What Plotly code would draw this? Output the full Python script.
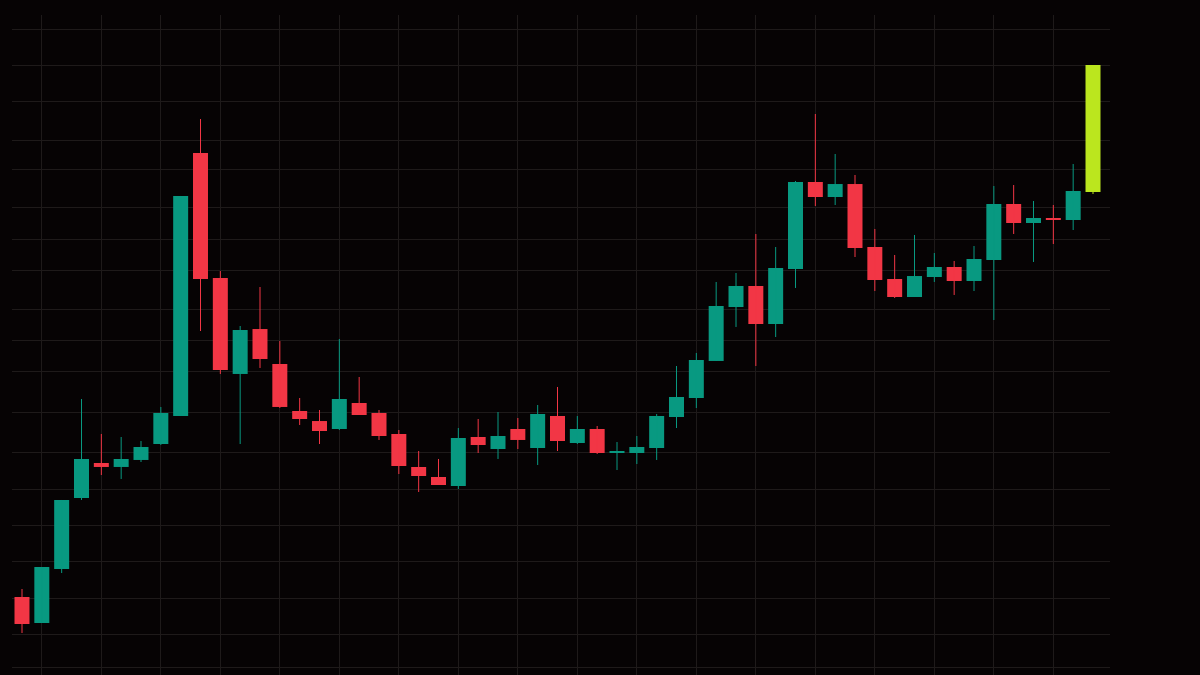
import plotly.graph_objects as go

# Bar index (one candle per period)
bars = list(range(55))

opens = [11.82, 7.88, 16.06, 26.82, 32.12, 31.52, 32.58, 35.00, 39.24, 79.09,
         60.15, 45.61, 52.42, 47.12, 40.00, 38.48, 37.27, 41.21, 39.70, 36.52,
         31.52, 30.00, 28.64, 36.06, 34.24, 37.27, 34.39, 39.24, 35.15, 37.27,
         33.71, 33.64, 34.39, 39.09, 41.97, 47.58, 55.76, 58.94, 53.18, 61.52,
         74.70, 72.42, 74.39, 64.85, 60.00, 57.27, 60.30, 61.82, 59.70, 62.88,
         71.36, 68.48, 69.24, 68.94, 73.18]
highs = [13.03, 16.36, 26.52, 41.82, 36.52, 36.06, 35.45, 40.61, 72.58, 84.24,
         61.21, 52.88, 58.79, 50.61, 41.97, 40.15, 50.91, 45.15, 40.15, 37.12,
         33.94, 32.73, 37.42, 38.79, 39.85, 38.94, 40.91, 43.64, 39.24, 37.73,
         35.30, 36.21, 39.55, 46.82, 48.79, 59.55, 60.91, 66.82, 64.85, 74.85,
         85.00, 78.94, 75.76, 67.58, 63.64, 66.67, 63.94, 62.73, 65.00, 74.09,
         74.24, 71.82, 71.21, 77.42, 92.42]
lows = [6.36, 7.88, 15.45, 26.52, 30.30, 29.70, 32.27, 34.85, 39.24, 52.12,
        45.61, 35.00, 46.52, 40.45, 37.88, 35.00, 37.12, 39.39, 35.61, 30.45,
        27.73, 28.79, 28.18, 33.64, 32.73, 34.24, 31.82, 33.94, 35.00, 33.48,
        31.06, 31.97, 32.58, 37.42, 40.45, 47.58, 52.73, 46.82, 51.21, 58.64,
        71.06, 71.21, 63.33, 58.18, 57.12, 57.27, 59.55, 57.58, 58.18, 53.79,
        66.82, 62.58, 65.30, 67.42, 72.88]
closes = [7.73, 16.36, 26.52, 32.73, 31.52, 32.73, 34.55, 39.70, 72.58, 60.00,
          46.21, 52.27, 47.88, 40.61, 38.79, 36.97, 41.82, 39.39, 36.21, 31.67,
          30.15, 28.79, 35.91, 34.85, 36.21, 35.61, 39.55, 35.45, 37.27, 33.64,
          33.86, 34.55, 39.24, 42.12, 47.73, 55.91, 58.94, 53.18, 61.67, 74.70,
          72.42, 74.39, 64.70, 59.85, 57.27, 60.45, 61.82, 59.70, 63.03, 71.36,
          68.48, 69.24, 68.94, 73.33, 92.42]

# Horizontal grid levels
grid_levels = [1.21, 6.21, 11.52, 17.27, 22.58, 28.18, 33.64, 39.70, 45.91,
               50.61, 55.45, 61.36, 66.06, 70.76, 76.52, 81.06, 86.82, 92.42, 97.73]

UP = "#089981"
DOWN = "#f23645"
LAST = "#bbe61e"
BG = "#060304"
GRID = "#1e1a1a"

n = len(bars)
groups = {"up": [], "down": [], "last": []}
for i in range(n):
    if i == n - 1:
        groups["last"].append(i)
    elif closes[i] >= opens[i]:
        groups["up"].append(i)
    else:
        groups["down"].append(i)

colors = {"up": UP, "down": DOWN, "last": LAST}

fig = go.Figure()
for key, idx in groups.items():
    wx, wy = [], []
    for i in idx:
        wx += [bars[i], bars[i], None]
        wy += [lows[i], highs[i], None]
    fig.add_trace(go.Scatter(x=wx, y=wy, mode="lines",
                             line=dict(color=colors[key], width=1),
                             hoverinfo="skip", showlegend=False))
for key, idx in groups.items():
    fig.add_trace(go.Bar(
        x=[bars[i] for i in idx],
        y=[max(abs(closes[i] - opens[i]), 0.15) for i in idx],
        base=[min(opens[i], closes[i]) for i in idx],
        width=0.756,
        marker=dict(color=colors[key], line=dict(width=0)),
        hoverinfo="skip", showlegend=False))

fig.update_layout(
    width=1200, height=675, autosize=False,
    paper_bgcolor=BG, plot_bgcolor=BG,
    margin=dict(l=12, r=90, t=15, b=0),
    barmode="overlay",
    showlegend=False,
    xaxis=dict(range=[-0.504, 54.857], tick0=1, dtick=3, showgrid=True,
               gridcolor=GRID, gridwidth=1, zeroline=False,
               showticklabels=False, showline=False, ticks=""),
    yaxis=dict(range=[0, 100], tickmode="array", tickvals=grid_levels,
               showgrid=True, gridcolor=GRID, gridwidth=1, zeroline=False,
               showticklabels=False, showline=False, ticks=""),
)

post = ("document.body.style.margin='0';document.body.style.padding='0';"
        "document.body.style.overflow='hidden';"
        "document.body.style.background='%s';"
        "document.documentElement.style.background='%s';" % (BG, BG))

fig.write_html("out.html", config={"displayModeBar": False}, post_script=post)
